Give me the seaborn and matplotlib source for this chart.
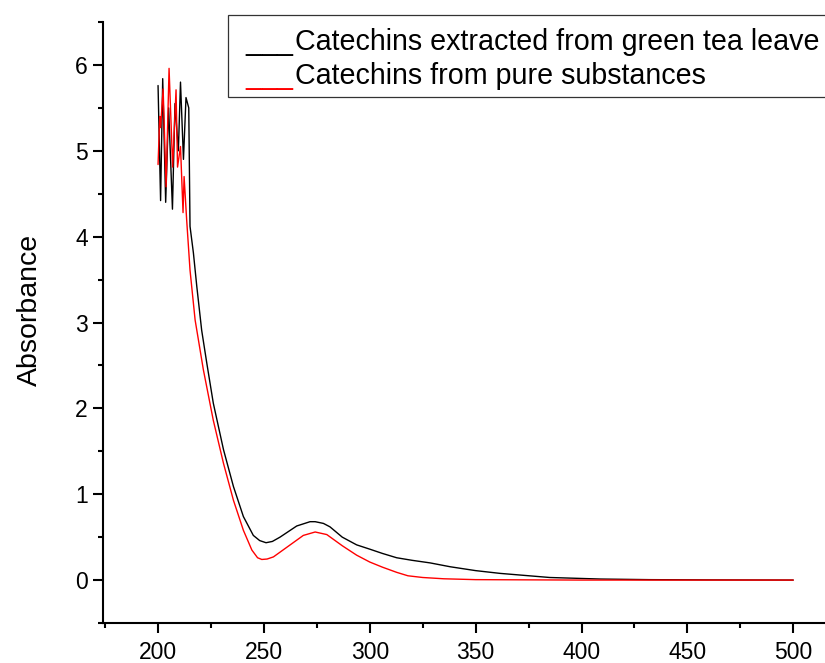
import numpy as np
import pandas as pd
import seaborn as sns
import matplotlib.pyplot as plt
from matplotlib.patches import Rectangle
from matplotlib.ticker import MultipleLocator

# Wavelength (nm) and absorbance
wl_extract = [200.0, 201.2, 202.2, 203.6, 205.0, 206.8, 208.0, 209.6, 210.6, 212.0,
              213.2, 214.5, 215.1, 216.7, 218.3, 220.6, 223.0, 226.1, 230.9, 235.6,
              240.3, 245.0, 248.0, 251.0, 254.0, 257.6, 265.5, 271.8, 274.2, 278.1,
              281.2, 287.0, 293.8, 300.0, 306.0, 312.7, 320.0, 328.5, 338.0, 350.0,
              361.5, 385.0, 409.0, 432.0, 460.0, 500.0]
abs_extract = [5.76, 4.42, 5.84, 4.40, 5.50, 4.32, 5.55, 5.00, 5.80, 4.90,
               5.62, 5.50, 4.12, 3.81, 3.42, 2.91, 2.53, 2.06, 1.52, 1.09,
               0.74, 0.52, 0.46, 0.435, 0.45, 0.50, 0.63, 0.68, 0.68, 0.66,
               0.62, 0.50, 0.41, 0.36, 0.31, 0.26, 0.23, 0.20, 0.155, 0.11,
               0.078, 0.03, 0.012, 0.005, 0.002, 0.0]

wl_pure = [200.0, 200.8, 201.2, 202.4, 203.8, 205.2, 206.9, 208.5, 209.2, 210.6,
           211.8, 212.3, 213.5, 215.1, 217.5, 221.4, 226.1, 230.9, 235.6, 240.3,
           244.3, 247.0, 249.0, 251.5, 254.5, 262.4, 268.6, 274.2, 279.7, 287.0,
           293.8, 300.0, 306.0, 312.7, 318.0, 325.0, 335.0, 350.0, 400.0, 500.0]
abs_pure = [4.84, 5.40, 5.27, 5.72, 4.58, 5.96, 4.81, 5.71, 4.81, 5.05,
            4.28, 4.70, 4.20, 3.61, 3.03, 2.45, 1.86, 1.36, 0.93, 0.58,
            0.35, 0.26, 0.24, 0.245, 0.27, 0.41, 0.52, 0.56, 0.53, 0.40,
            0.29, 0.21, 0.15, 0.09, 0.05, 0.03, 0.015, 0.005, 0.0, 0.0]

labels = ["Catechins extracted from green tea leave", "Catechins from pure substances"]
colors = ["black", "red"]

df_a = pd.DataFrame({"wl": wl_extract, "A": abs_extract})
df_b = pd.DataFrame({"wl": wl_pure, "A": abs_pure})

sns.set_style("ticks")
plt.rcParams["font.family"] = ["Liberation Sans", "DejaVu Sans"]
plt.rcParams.update({"text.color": "black", "axes.labelcolor": "black",
                     "xtick.color": "black", "ytick.color": "black",
                     "axes.edgecolor": "black"})

fig = plt.figure(figsize=(8.25, 6.63), dpi=100)
ax = fig.add_axes([103 / 825, 40 / 663, 722 / 825, 601 / 663])

sns.lineplot(data=df_a, x="wl", y="A", color=colors[0], lw=1, ax=ax, sort=False)
sns.lineplot(data=df_b, x="wl", y="A", color=colors[1], lw=1, ax=ax, sort=False)

ax.set_xlim(174, 515)
ax.set_ylim(-0.5, 6.5)
ax.xaxis.set_major_locator(MultipleLocator(50))
ax.xaxis.set_minor_locator(MultipleLocator(25))
ax.yaxis.set_major_locator(MultipleLocator(1))
ax.yaxis.set_minor_locator(MultipleLocator(0.5))
ax.tick_params(which="major", direction="out", length=7, width=1.5, labelsize=16.5, pad=4)
ax.tick_params(axis="x", which="major", pad=6)
ax.tick_params(which="minor", direction="out", length=3.5, width=1.5)
for side in ["top", "right"]:
    ax.spines[side].set_visible(False)
for side in ["left", "bottom"]:
    ax.spines[side].set_linewidth(1.5)

ax.set_xlabel("")
ax.set_ylabel("")
fig.text(30 / 825, 1 - 310 / 663, "Absorbance", rotation=90, fontsize=20.5,
         ha="center", va="center")

# legend box drawn the way the original shows it: underscores + text
fig.patches.append(Rectangle((228 / 825, 1 - 97 / 663), 0.75, 82 / 663,
                             transform=fig.transFigure, fill=True, facecolor="white",
                             edgecolor="#333333", lw=0.9, zorder=5))
for i, (lab, col) in enumerate(zip(labels, colors)):
    yb = 1 - (50 + 34 * i) / 663
    fig.text(245 / 825, yb, "___", color=col, fontsize=20.6, va="baseline", zorder=6)
    fig.text(295 / 825, yb, lab, color="black", fontsize=20.6, va="baseline", zorder=6)

fig.savefig("out.png", dpi=100)
